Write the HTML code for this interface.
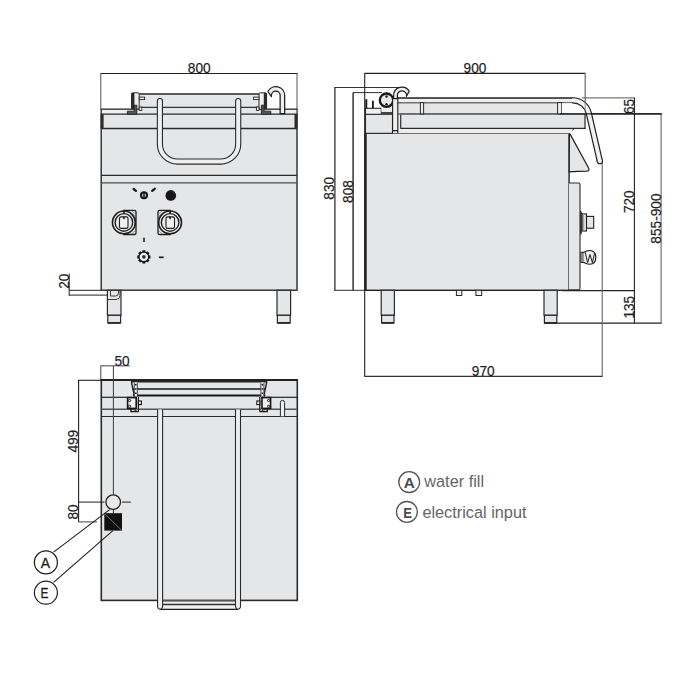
<!DOCTYPE html>
<html><head><meta charset="utf-8"><style>
html,body{margin:0;padding:0;background:#fff;width:700px;height:700px;overflow:hidden}
svg{display:block}
text{font-family:"Liberation Sans",sans-serif;fill:#1e1e1e}
.d{stroke:#1e1e1e;stroke-width:0.2}
</style></head><body>
<svg width="700" height="700" viewBox="0 0 700 700">
<defs></defs>
<!-- ================= FRONT VIEW ================= -->
<g id="front">
  <!-- dim 800 -->
  <line x1="100.5" y1="73.5" x2="297.5" y2="73.5" stroke="#222" stroke-width="1.1"/>
  <line x1="100.8" y1="73" x2="100.8" y2="109" stroke="#555" stroke-width="1"/>
  <line x1="297" y1="73" x2="297" y2="109" stroke="#555" stroke-width="1"/>
  <text transform="translate(199.2,72.8) scale(0.925,1)" font-size="14.8" class="d" text-anchor="middle">800</text>

  <!-- pan between brackets -->
  <rect x="139" y="94" width="120" height="13" fill="#e5e6e8"/>
  <line x1="139" y1="94" x2="259" y2="94" stroke="#2a2a2a" stroke-width="1.6"/>
  <!-- body -->
  <rect x="101.2" y="109.2" width="195.8" height="181" fill="#e5e6e8" stroke="#2a2a2a" stroke-width="1.4"/>
  <rect x="101.9" y="109.9" width="194.4" height="4.2" fill="#efeff0"/>
  <rect x="139.5" y="107" width="119" height="7" fill="#e5e6e8"/>
  <line x1="139" y1="107.3" x2="259" y2="107.3" stroke="#333" stroke-width="1.3"/>
  <line x1="101" y1="114.2" x2="297" y2="114.2" stroke="#2a2a2a" stroke-width="1.3"/>
  <line x1="101" y1="128.5" x2="297" y2="128.5" stroke="#2a2a2a" stroke-width="1.3"/>
  <rect x="100.6" y="114" width="3" height="14.5" fill="#2a2a2a"/>
  <rect x="294.5" y="114" width="3" height="14.5" fill="#2a2a2a"/>
  <line x1="101" y1="175.3" x2="297" y2="175.3" stroke="#2a2a2a" stroke-width="1.3"/>
  <line x1="101" y1="182.9" x2="297" y2="182.9" stroke="#4a4a4a" stroke-width="1.4"/>

  <!-- handle -->
  <path d="M159.9,101 V144 A17.5,17.5 0 0 0 177.4,161.6 H220.7 A17.5,17.5 0 0 0 238.2,144 V101" fill="none" stroke="#2a2a2a" stroke-width="6.2" stroke-linecap="round"/>
  <path d="M159.9,101 V144 A17.5,17.5 0 0 0 177.4,161.6 H220.7 A17.5,17.5 0 0 0 238.2,144 V101" fill="none" stroke="#efeff0" stroke-width="4" stroke-linecap="round"/>

  <!-- left bracket -->
  <g id="brk">
    <rect x="131.6" y="92.8" width="7.6" height="16.4" rx="1.2" fill="#efeff0" stroke="#2a2a2a" stroke-width="1"/>
    <rect x="131.4" y="93" width="3" height="16.2" fill="#2a2a2a"/>
    <rect x="139.2" y="97.1" width="5.4" height="2.5" fill="#efeff0" stroke="#2a2a2a" stroke-width="0.9"/>
    <rect x="139.2" y="107" width="2.6" height="3.4" fill="#efeff0" stroke="#2a2a2a" stroke-width="0.9"/>
    <path d="M127.4,111.2 H134.2 V105.2 H136.8 V114.3 H127.4 Z" fill="#555" stroke="#2a2a2a" stroke-width="1"/>
  </g>
  <use href="#brk" transform="translate(398.2,0) scale(-1,1)"/>

  <!-- faucet hook -->
  <path d="M267.9,91.5 A8.85,8.85 0 0 1 284.65,95.45 V113.6 H280.15 V95.45 A4.35,4.35 0 0 0 271.45,95.45 V96.6 Z" fill="#eeeeef" stroke="#1e1e1e" stroke-width="1.25" stroke-linejoin="round"/>
  <!-- control panel -->
  <line x1="133.6" y1="189" x2="135.9" y2="190.9" stroke="#1e1e1e" stroke-width="2.3" stroke-linecap="round"/>
  <line x1="152.2" y1="190.9" x2="154.7" y2="188.8" stroke="#1e1e1e" stroke-width="2.3" stroke-linecap="round"/>
  <circle cx="144" cy="195.3" r="3.1" fill="#c8c8c8" stroke="#161616" stroke-width="1.9"/>
  <line x1="144" y1="192.2" x2="144" y2="198.4" stroke="#161616" stroke-width="1.5"/>
  <circle cx="170.8" cy="195.4" r="5.3" fill="#161616"/>

  <g id="knob">
    <path d="M123.9,210.3 H134.4 a1.6,1.6 0 0 1 1.6,1.6 V232.9 a1.6,1.6 0 0 1 -1.6,1.6 H123.9 Z" fill="#ebebec" stroke="#1e1e1e" stroke-width="1.3"/>
    <line x1="129" y1="211" x2="135.4" y2="216.5" stroke="#555" stroke-width="0.6"/>
    <line x1="132" y1="211" x2="135.4" y2="214" stroke="#555" stroke-width="0.6"/>
    <line x1="131.5" y1="234" x2="135.4" y2="230.5" stroke="#555" stroke-width="0.6"/>
    <circle cx="123.9" cy="222.4" r="11.4" fill="#efeff0" stroke="#1e1e1e" stroke-width="1.6"/>
    <circle cx="123.9" cy="222.4" r="8.8" fill="#e8e9ea" stroke="#1e1e1e" stroke-width="1.4"/>
    <rect x="119.5" y="216.9" width="8.5" height="11.5" rx="1.7" fill="#f0f0f1" stroke="#1e1e1e" stroke-width="1.1"/>
    <rect x="123.2" y="216.6" width="1.5" height="2.6" fill="#1e1e1e"/>
    <rect x="123.1" y="210.4" width="1.7" height="3.2" fill="#1e1e1e"/>
  </g>
  <use href="#knob" transform="translate(294,0) scale(-1,1)"/>

  <line x1="144" y1="237.8" x2="144" y2="242" stroke="#1e1e1e" stroke-width="1.6"/>
  <path d="M142.25,251.64 L142.34,250.32 L145.38,250.32 L145.47,251.64 L146.44,252.04 L147.44,251.18 L149.58,253.32 L148.72,254.32 L149.12,255.29 L150.44,255.38 L150.44,258.42 L149.12,258.51 L148.72,259.48 L149.58,260.48 L147.44,262.62 L146.44,261.76 L145.47,262.16 L145.38,263.48 L142.34,263.48 L142.25,262.16 L141.28,261.76 L140.28,262.62 L138.14,260.48 L139.00,259.48 L138.60,258.51 L137.28,258.42 L137.28,255.38 L138.60,255.29 L139.00,254.32 L138.14,253.32 L140.28,251.18 L141.28,252.04 Z" fill="#161616"/>
  <circle cx="143.86" cy="256.90" r="4.2" fill="#f0f0f1"/>
  <circle cx="143.86" cy="256.90" r="1.8" fill="#2a2a2a"/>
  <line x1="158.9" y1="257.3" x2="163.6" y2="257.3" stroke="#1e1e1e" stroke-width="1.7"/>

  <!-- legs -->
  <g id="leg">
    <rect x="107.4" y="290.3" width="13.6" height="25" fill="#e5e6e8" stroke="#2a2a2a" stroke-width="1.2"/>
    <rect x="107.8" y="315.3" width="12.8" height="7.6" fill="#e5e6e8" stroke="#2a2a2a" stroke-width="1.2"/>
    <line x1="107.8" y1="322.9" x2="120.6" y2="322.9" stroke="#2a2a2a" stroke-width="1.8"/>
  </g>
  <use href="#leg" transform="translate(169.6,0)"/>
  <path d="M110.5,290.5 V296 H115.5 A3,3 0 0 0 118.5,293 V290.5" fill="none" stroke="#2a2a2a" stroke-width="0.9"/>
  <path d="M108,299.5 H116 A4,4 0 0 0 120,295.5 V290.5" fill="none" stroke="#2a2a2a" stroke-width="0.9"/>

  <!-- dim 20 -->
  <line x1="68.8" y1="290.3" x2="101" y2="290.3" stroke="#222" stroke-width="1"/>
  <line x1="68.8" y1="295.1" x2="108" y2="295.1" stroke="#222" stroke-width="1"/>
  <line x1="69.2" y1="273.5" x2="69.2" y2="295.5" stroke="#222" stroke-width="1"/>
  <text transform="translate(69,281.2) rotate(-90) scale(0.925,1)" font-size="14.8" class="d" text-anchor="middle">20</text>
</g>

<!-- ================= SIDE VIEW ================= -->
<g id="side">
  <!-- dims -->
  <line x1="364.6" y1="73.4" x2="585.6" y2="73.4" stroke="#222" stroke-width="1.1"/>
  <line x1="585.2" y1="73" x2="585.2" y2="114" stroke="#777" stroke-width="1"/>
  <text transform="translate(475,72.9) scale(0.925,1)" font-size="14.8" class="d" text-anchor="middle">900</text>

  <line x1="334.3" y1="87.5" x2="400" y2="87.5" stroke="#333" stroke-width="1"/>
  <line x1="334.9" y1="87.5" x2="334.9" y2="290.5" stroke="#333" stroke-width="1.3"/>
  <text transform="translate(334.3,188.3) rotate(-90) scale(0.925,1)" font-size="14.8" class="d" text-anchor="middle">830</text>
  <line x1="353" y1="92.6" x2="382" y2="92.6" stroke="#333" stroke-width="1"/>
  <line x1="353.1" y1="92.6" x2="353.1" y2="290.5" stroke="#161616" stroke-width="1.3"/>
  <text transform="translate(352.7,191.5) rotate(-90) scale(0.925,1)" font-size="14.8" class="d" text-anchor="middle">808</text>
  <line x1="334" y1="290.3" x2="365" y2="290.3" stroke="#333" stroke-width="1"/>

  <line x1="582" y1="97.9" x2="635" y2="97.9" stroke="#555" stroke-width="1"/>
  <line x1="560" y1="113.9" x2="661.7" y2="113.9" stroke="#1e1e1e" stroke-width="1.3"/>
  <line x1="634.4" y1="97.9" x2="634.4" y2="323.2" stroke="#222" stroke-width="1.1"/>
  <text transform="translate(634.2,106.5) rotate(-90) scale(0.925,1)" font-size="14.8" class="d" text-anchor="middle">65</text>
  <text transform="translate(634.2,201.7) rotate(-90) scale(0.925,1)" font-size="14.8" class="d" text-anchor="middle">720</text>
  <text transform="translate(634.2,307.2) rotate(-90) scale(0.925,1)" font-size="14.8" class="d" text-anchor="middle">135</text>
  <line x1="562" y1="290.6" x2="634.4" y2="290.6" stroke="#222" stroke-width="1.1"/>
  <line x1="544" y1="323.1" x2="661.7" y2="323.1" stroke="#222" stroke-width="1.1"/>
  <line x1="661.1" y1="113.9" x2="661.1" y2="323.2" stroke="#666" stroke-width="1.1"/>
  <text transform="translate(660.5,218.6) rotate(-90) scale(0.925,1)" font-size="14.8" class="d" text-anchor="middle">855-900</text>
  <line x1="602.2" y1="161.5" x2="602.2" y2="376.5" stroke="#666" stroke-width="1.1"/>
  <line x1="364.6" y1="376.4" x2="602.6" y2="376.4" stroke="#333" stroke-width="1.1"/>
  <line x1="364.7" y1="73" x2="364.7" y2="376.8" stroke="#222" stroke-width="1.1"/>
  <text transform="translate(483.2,376) scale(0.925,1)" font-size="14.8" class="d" text-anchor="middle">970</text>

  <!-- body -->
  <rect x="365.5" y="133.2" width="203.6" height="157.1" fill="#e5e6e8" stroke="#222" stroke-width="1.4"/>
  <line x1="365.6" y1="133" x2="365.6" y2="290.5" stroke="#1e1e1e" stroke-width="2"/>
  <!-- side panel -->
  <path d="M569,183 H578.5 a1.5,1.5 0 0 1 1.5,1.5 V288.3 a1.5,1.5 0 0 1 -1.5,1.5 H569" fill="#e5e6e8" stroke="#2a2a2a" stroke-width="1.1"/>
  <path d="M569.4,132.9 L588.6,168 Q590,171 586.5,171.2 Q578,171.2 569.2,171.8 Z" fill="#e5e6e8" stroke="#1e1e1e" stroke-width="1.2"/>
  <line x1="569.6" y1="132.8" x2="573.8" y2="128.8" stroke="#2a2a2a" stroke-width="1.1"/>
  <!-- knob side -->
  <path d="M580.2,210.5 L581.8,212 V233.5 L580.2,235 Z" fill="#1e1e1e"/>
  <rect x="582.1" y="213.9" width="4.4" height="17.1" fill="#eeeeef" stroke="#1e1e1e" stroke-width="1.1"/>
  <rect x="583" y="214.5" width="1.3" height="16" fill="#aaa"/>
  <rect x="586.5" y="216.4" width="7.2" height="11.8" fill="#e5e6e8" stroke="#1e1e1e" stroke-width="1.1"/>
  <!-- W faucet knob -->
  <path d="M581,252.3 H583.8 Q587,250.3 590,250.5 Q595.8,251 595.8,257.4 Q595.8,263.8 590,264.2 Q587,264.4 583.8,262.5 H581 Z" fill="#eeeeef" stroke="#1e1e1e" stroke-width="1.15"/>
  <rect x="581.2" y="252.8" width="2.6" height="9.3" fill="#888"/>
  <path d="M585.2,252.2 L587.6,262.6 L590,254.6 L592.4,262.6 L594.6,253.2" fill="none" stroke="#1e1e1e" stroke-width="1"/>

  <!-- top housing -->
  <rect x="365.5" y="114.3" width="27" height="19" fill="#e5e6e8" stroke="#2a2a2a" stroke-width="1.1"/>
  <rect x="365.5" y="108.3" width="15.8" height="6" fill="#efeff0" stroke="#2a2a2a" stroke-width="1.1"/>
  <rect x="381.3" y="111.8" width="11.2" height="2.5" fill="#444"/>
  <line x1="366.3" y1="99.2" x2="366.3" y2="108.3" stroke="#161616" stroke-width="1.9"/>
  <line x1="372.9" y1="100.8" x2="372.9" y2="108.3" stroke="#161616" stroke-width="1.8"/>
  <rect x="381.3" y="106" width="11" height="5.8" fill="#efeff0"/>
  <circle cx="386.5" cy="100.2" r="6.7" fill="#e8e8ea" stroke="#161616" stroke-width="2.3"/>
  <circle cx="386.5" cy="96.5" r="1.2" fill="#161616"/>
  <circle cx="386.5" cy="104.2" r="1.2" fill="#161616"/>

  <!-- pan -->
  <rect x="397.5" y="102.6" width="164" height="26" fill="#e5e6e8"/>
  <rect x="561" y="113.9" width="24.5" height="14.6" fill="#e5e6e8"/>
  <rect x="394" y="97.9" width="180" height="4.7" fill="#efeff0"/>
  <line x1="394" y1="97.9" x2="573" y2="97.9" stroke="#1e1e1e" stroke-width="1.5"/>
  <line x1="397.5" y1="102.8" x2="573" y2="102.8" stroke="#707070" stroke-width="1.5"/>
  <rect x="400.7" y="113.9" width="184.3" height="14.5" fill="#e5e6e8" stroke="#3a3a3a" stroke-width="1.3"/>
  <line x1="397.5" y1="113.9" x2="585" y2="113.9" stroke="#707070" stroke-width="1.5"/>
  <rect x="420.4" y="102.6" width="3.2" height="11.3" fill="#efeff0" stroke="#2a2a2a" stroke-width="1"/>
  <rect x="557.6" y="102.6" width="4.2" height="11.3" fill="#efeff0" stroke="#2a2a2a" stroke-width="1"/>
  <rect x="397.5" y="128.6" width="175" height="4.7" fill="#eeeeef"/>
  <line x1="400.5" y1="128.5" x2="585.5" y2="128.5" stroke="#2a2a2a" stroke-width="1.2"/>
  <!-- tube -->
  <rect x="392.6" y="97" width="5.2" height="36.3" fill="#efeff0"/>
  <path d="M392.6,97 V133.3 M397.8,97 V133.3 M392.6,130.6 H397.8" fill="none" stroke="#1e1e1e" stroke-width="1.1"/>
  <!-- hook -->
  <path d="M393.6,98.5 V95.5 A8.4,8.4 0 0 1 409.2,91.2 L406.5,96.3 A4.6,4.6 0 1 0 397.4,95.5 V98.5 Z" fill="#eeeeef" stroke="#1e1e1e" stroke-width="1.25" stroke-linejoin="round"/>
  <!-- pan handle -->
  <rect x="562" y="103.2" width="24" height="10.2" fill="#fbfbfb"/>
  <path d="M572,100.3 H572.5 A16.5,16.5 0 0 1 588.8,113.2 L599.9,161.2" fill="none" stroke="#1e1e1e" stroke-width="6.3"/>
  <circle cx="599.9" cy="161.2" r="3.15" fill="#1e1e1e"/>
  <path d="M572,100.3 H572.5 A16.5,16.5 0 0 1 588.8,113.2 L599.9,161.2" fill="none" stroke="#f0f0f1" stroke-width="3.9"/>
  <circle cx="599.9" cy="161.2" r="1.95" fill="#f0f0f1"/>
  <line x1="585.2" y1="73" x2="585.2" y2="114" stroke="#777" stroke-width="1" opacity="0.7"/>
  <line x1="560" y1="113.9" x2="661.7" y2="113.9" stroke="#1e1e1e" stroke-width="1.3"/>

  <!-- legs -->
  <g id="sleg">
    <rect x="381.2" y="290.3" width="13.2" height="25" fill="#e5e6e8" stroke="#2a2a2a" stroke-width="1.2"/>
    <rect x="381.6" y="315.3" width="12.4" height="7.6" fill="#e5e6e8" stroke="#2a2a2a" stroke-width="1.2"/>
    <line x1="381.6" y1="322.9" x2="394" y2="322.9" stroke="#2a2a2a" stroke-width="1.8"/>
  </g>
  <use href="#sleg" transform="translate(162.8,0)"/>
  <rect x="456.4" y="290.3" width="5.4" height="5.2" fill="#efeff0" stroke="#2a2a2a" stroke-width="1"/>
  <rect x="475.9" y="290.3" width="5.8" height="5.2" fill="#efeff0" stroke="#2a2a2a" stroke-width="1"/>
</g>

<!-- ================= PLAN VIEW ================= -->
<g id="plan">
  <!-- dim 50 -->
  <line x1="100.7" y1="365.8" x2="129.8" y2="365.8" stroke="#555" stroke-width="1.1"/>
  <line x1="100.8" y1="365.5" x2="100.8" y2="380" stroke="#555" stroke-width="1.1"/>
  <text transform="translate(114.4,365.6) scale(0.925,1)" font-size="14.8" class="d">50</text>
  <!-- dim 499 / 80 -->
  <line x1="78" y1="380.3" x2="101" y2="380.3" stroke="#222" stroke-width="1.1"/>
  <line x1="78.6" y1="380" x2="78.6" y2="522" stroke="#222" stroke-width="1.1"/>
  <text transform="translate(78.3,441.2) rotate(-90) scale(0.925,1)" font-size="14.8" class="d" text-anchor="middle">499</text>
  <text transform="translate(78.3,512) rotate(-90) scale(0.925,1)" font-size="14.8" class="d" text-anchor="middle">80</text>
  <line x1="78.6" y1="521.9" x2="97" y2="521.9" stroke="#555" stroke-width="1.1"/>

  <!-- plan body -->
  <rect x="101.3" y="380.2" width="196" height="220.2" fill="#e5e6e8" stroke="#2a2a2a" stroke-width="1.6"/>
  <line x1="100.6" y1="380" x2="298" y2="380" stroke="#222" stroke-width="1.9"/>
  <line x1="101" y1="397.3" x2="132" y2="397.3" stroke="#222" stroke-width="1.2"/>
  <line x1="266" y1="397.3" x2="297" y2="397.3" stroke="#222" stroke-width="1.2"/>
  <line x1="101" y1="409.2" x2="297" y2="409.2" stroke="#555" stroke-width="1.5"/>
  <line x1="101" y1="416.5" x2="297" y2="416.5" stroke="#2a2a2a" stroke-width="1.2"/>
  <!-- rail -->
  <rect x="131.5" y="382" width="135.2" height="13.5" fill="#e5e6e8"/>
  <line x1="131" y1="380.8" x2="267.2" y2="380.8" stroke="#222" stroke-width="3.4"/>
  <line x1="132.3" y1="389" x2="266" y2="389" stroke="#161616" stroke-width="1.7"/>
  <line x1="132.9" y1="395.5" x2="265.3" y2="395.5" stroke="#161616" stroke-width="2"/>
  <!-- brackets -->
  <g id="pbrk">
    <path d="M131.4,382 L134.3,395.5" stroke="#1e1e1e" stroke-width="1.3"/>
    <rect x="134.3" y="382.5" width="3" height="29" fill="#f3f3f4"/>
    <path d="M134.3,383 V411.8 M137.3,383 V397" stroke="#333" stroke-width="0.9"/>
    <line x1="135.8" y1="384" x2="135.8" y2="411" stroke="#161616" stroke-width="1.5" stroke-dasharray="1.6 2.6"/>
    <line x1="138.4" y1="397" x2="138.4" y2="411.8" stroke="#161616" stroke-width="1.2"/>
    <rect x="127.6" y="397.6" width="8.6" height="10.8" fill="#f3f3f4" stroke="#161616" stroke-width="1.6"/>
    <circle cx="129.6" cy="400.5" r="1.1" fill="#fff" stroke="#161616" stroke-width="1"/>
    <circle cx="129.6" cy="406.3" r="1.1" fill="#fff" stroke="#161616" stroke-width="1"/>
    <path d="M131,408.4 V411.6 H138.6" fill="none" stroke="#161616" stroke-width="1.4"/>
    <rect x="138.4" y="401" width="3" height="3.6" fill="#f3f3f4" stroke="#161616" stroke-width="1.1"/>
  </g>
  <use href="#pbrk" transform="translate(398.2,0) scale(-1,1)"/>
  <!-- faucet rod -->
  <path d="M280.4,416.3 V402.5 A2.1,2.1 0 0 1 284.6,402.5 V416.3" fill="#efeff0" stroke="#2a2a2a" stroke-width="1"/>

  <!-- handle -->
  <rect x="162.6" y="600.6" width="72.9" height="8.7" fill="#efeff0"/>
  <line x1="162.6" y1="601" x2="235.5" y2="601" stroke="#333" stroke-width="1.1"/>
  <line x1="162.6" y1="604.5" x2="235.5" y2="604.5" stroke="#333" stroke-width="1.3"/>
  <line x1="160" y1="609.3" x2="238" y2="609.3" stroke="#1e1e1e" stroke-width="1.2"/>
  <path d="M157.6,409.6 V606.6 A2.6,2.6 0 0 0 160.2,609.2 H160 A2.6,2.6 0 0 0 162.6,606.6 V409.6" fill="#efeff0" stroke="#2a2a2a" stroke-width="1.1"/>
  <path d="M235.5,409.6 V606.6 A2.6,2.6 0 0 0 238.1,609.2 H237.9 A2.6,2.6 0 0 0 240.5,606.6 V409.6" fill="#efeff0" stroke="#2a2a2a" stroke-width="1.1"/>

  <!-- water fill marker -->
  <line x1="113.4" y1="366" x2="113.4" y2="494.6" stroke="#444" stroke-width="1.05"/>
  <line x1="78.6" y1="502.1" x2="104.5" y2="502.1" stroke="#333" stroke-width="1.1"/>
  <line x1="122" y1="502.1" x2="130.8" y2="502.1" stroke="#333" stroke-width="1.1"/>
  <line x1="113.4" y1="510" x2="113.4" y2="513.3" stroke="#333" stroke-width="1"/>
  <circle cx="113.2" cy="502.1" r="7.3" fill="#e9e9ea" stroke="#1e1e1e" stroke-width="1.3"/>
  <rect x="104.3" y="513.2" width="17.7" height="17.4" fill="#111"/>
  <line x1="105" y1="514" x2="121.3" y2="530" stroke="#888" stroke-width="0.8"/>

  <!-- leaders -->
  <line x1="109.6" y1="509.6" x2="53.6" y2="552.1" stroke="#1e1e1e" stroke-width="1.1"/>
  <line x1="112.9" y1="530.7" x2="53.6" y2="582.4" stroke="#1e1e1e" stroke-width="1.1"/>
  <circle cx="45.9" cy="562.4" r="11.5" fill="#fff" stroke="#1e1e1e" stroke-width="1.2"/>
  <circle cx="45.9" cy="592.7" r="11.5" fill="#fff" stroke="#1e1e1e" stroke-width="1.2"/>
  <text x="45.5" y="567.9" font-size="14" text-anchor="middle" stroke="#1e1e1e" stroke-width="0.3">A</text>
  <text transform="translate(44.5,597.9) scale(0.85,1)" font-size="14" text-anchor="middle" stroke="#1e1e1e" stroke-width="0.3">E</text>
</g>

<!-- ================= LEGEND ================= -->
<g id="legend">
  <circle cx="409.2" cy="482.1" r="10.4" fill="none" stroke="#555" stroke-width="1.3"/>
  <text x="409.2" y="487.6" font-size="15.3" font-weight="bold" text-anchor="middle" style="fill:#4a4a4a">A</text>
  <text x="424.3" y="487.4" font-size="16.3" style="fill:#666">water fill</text>
  <circle cx="406.9" cy="511.9" r="10.4" fill="none" stroke="#555" stroke-width="1.3"/>
  <text transform="translate(407.6,517.7) scale(0.86,1)" font-size="15.3" font-weight="bold" text-anchor="middle" style="fill:#4a4a4a">E</text>
  <text x="422.4" y="517.5" font-size="16.3" style="fill:#666">electrical input</text>
</g>
</svg>
</body></html>
